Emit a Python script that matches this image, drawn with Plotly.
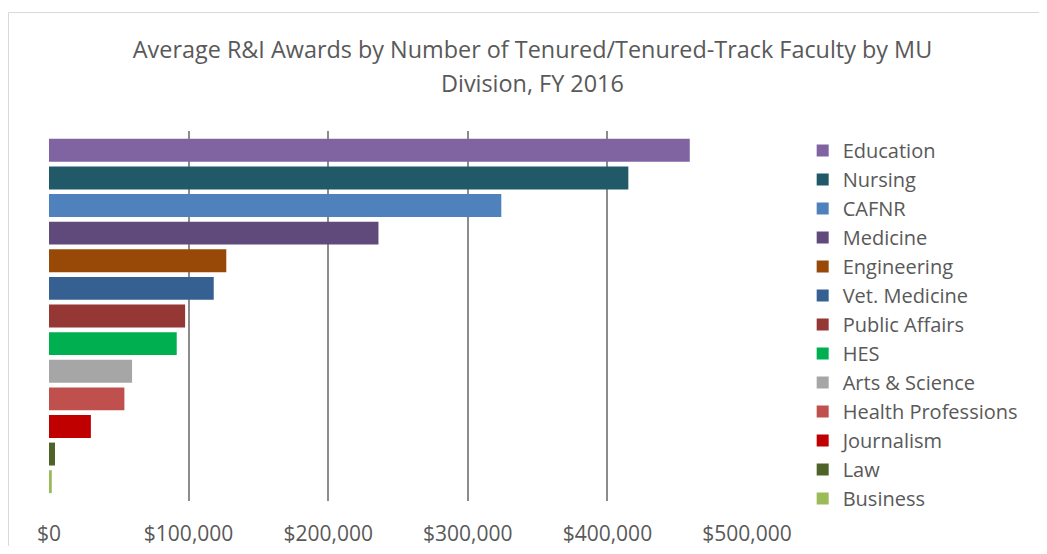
import plotly.graph_objects as go

categories = ["Education", "Nursing", "CAFNR", "Medicine", "Engineering", "Vet. Medicine",
              "Public Affairs", "HES", "Arts & Science", "Health Professions", "Journalism",
              "Law", "Business"]
values = [459000, 415000, 324000, 236000, 127000, 118000, 97500, 91500, 59500, 54000, 30000, 4300, 2000]
colors = ["#8064A2", "#215968", "#4F81BD", "#604A7B", "#984807", "#376092", "#953735",
          "#00B050", "#A6A6A6", "#C0504D", "#C00000", "#4F6228", "#9BBB59"]
tick_vals = [0, 100000, 200000, 300000, 400000, 500000]
tick_text = ["$0", "$100,000", "$200,000", "$300,000", "$400,000", "$500,000"]
title_lines = ["Average R&I Awards by Number of Tenured/Tenured-Track Faculty by MU",
               "Division, FY 2016"]

FONT = "Open Sans"
GRAY = "#595959"

fig = go.Figure()
for c, v, col in zip(categories, values, colors):
    fig.add_trace(go.Bar(
        y=[c], x=[v], name=c, orientation="h", marker=dict(color=col, line=dict(width=0)),
        width=0.83, legendgroup=c, hovertemplate="%{y}: $%{x:,.0f}<extra></extra>"))

OFF = 8  # page body margin
W, H = 1047 - 2 * OFF, 554 - 2 * OFF
# target screen pixels -> figure pixels
L, R, T, B = 49 - OFF, W - (747.3 - OFF), 131 - OFF, H - (501 - OFF)
pw = W - L - R
ph = H - T - B

def px_x(p):
    return (p - OFF - L) / pw

def px_y(p):
    return (H - B - (p - OFF)) / ph

TX = (532.5 - OFF) / W

fig.update_layout(
    width=W, height=H,
    margin=dict(l=L, r=R, t=T, b=B, autoexpand=False),
    paper_bgcolor="white", plot_bgcolor="white",
    barmode="relative",
    font=dict(family=FONT, color=GRAY, size=20),
    title=dict(text=title_lines[0],
               x=TX, xref="container", xanchor="center",
               y=1 - (50 - OFF) / H, yref="container", yanchor="middle",
               font=dict(family=FONT, size=23.4, color=GRAY)),
    annotations=[dict(text=title_lines[1], xref="paper", yref="paper",
                      x=px_x(532.5), y=px_y(83), xanchor="center", yanchor="middle",
                      showarrow=False, font=dict(family=FONT, size=23.4, color=GRAY))],
    xaxis=dict(range=[0, 500000], tickvals=tick_vals, ticktext=tick_text,
               showgrid=True, gridcolor="#8C8C8C", gridwidth=2, zeroline=False,
               showline=False, ticks="", ticklabelstandoff=18,
               tickfont=dict(family=FONT, size=21, color=GRAY), fixedrange=True),
    yaxis=dict(categoryorder="array", categoryarray=categories, autorange=False,
               range=[12.7, -0.7], showticklabels=False, showgrid=False, zeroline=False,
               showline=False, ticks="", fixedrange=True),
    legend=dict(x=px_x(803), xanchor="left", y=px_y(131), yanchor="top",
                traceorder="grouped", tracegroupgap=0,
                font=dict(family=FONT, size=20, color=GRAY), itemwidth=30,
                bgcolor="rgba(0,0,0,0)"),
    showlegend=True,
    shapes=[dict(type="rect", xref="paper", yref="paper",
                 x0=px_x(8.5), x1=px_x(1070), y0=px_y(580), y1=px_y(12.5),
                 line=dict(color="#D9D9D9", width=1), fillcolor="rgba(0,0,0,0)", layer="below")],
)
try:
    fig.update_layout(legend_maxheight=520)
except Exception:
    pass

fig.write_html("out.html")
